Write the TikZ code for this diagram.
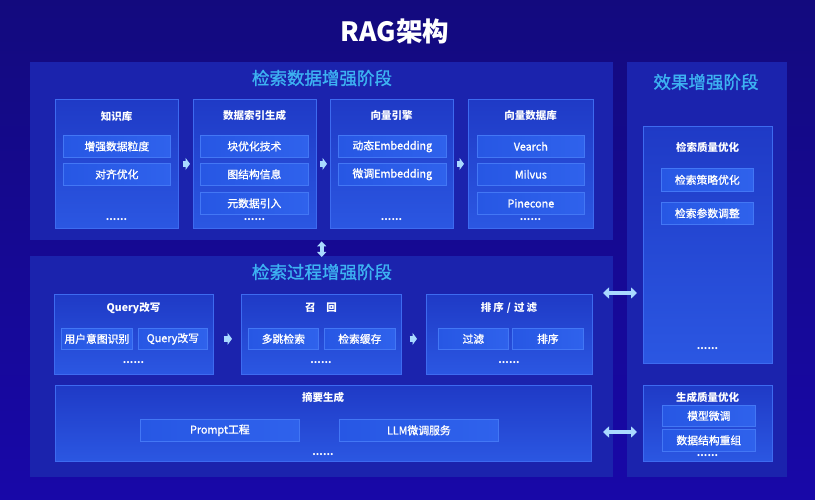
\documentclass[tikz,border=0pt]{standalone}
\usepackage{fontspec}
\setmainfont{Noto Sans CJK SC}
\newfontfamily\medfont{Noto Sans CJK SC}[FakeBold=1.2]
\usetikzlibrary{arrows.meta}
\definecolor{bgtop}{HTML}{130A7E}
\definecolor{bgbot}{HTML}{1808A8}
\definecolor{panelc}{HTML}{1B23AD}
\definecolor{ptitlec}{HTML}{3DB2F2}
\definecolor{inA}{HTML}{1F3AC6}
\definecolor{inB}{HTML}{2B57E2}
\definecolor{inbord}{HTML}{3D6BF0}
\definecolor{itemA}{HTML}{2757E4}
\definecolor{itemB}{HTML}{2F62EC}
\definecolor{itbord}{HTML}{4377F5}
\definecolor{arrowc}{HTML}{A9D9FF}
\tikzset{
  panel/.style={fill=panelc, draw=none, anchor=north west, inner sep=0pt},
  ptitle/.style={text=ptitlec, font=\medfont\fontsize{17.5}{19}\selectfont, inner sep=0pt},
  inbox/.style={draw=inbord, line width=0.8pt, top color=inA, bottom color=inB, anchor=north west, inner sep=0pt},
  btitle/.style={text=white, font=\fontsize{10.5}{12}\selectfont\bfseries, inner sep=0pt},
  item/.style={draw=itbord, line width=0.7pt, left color=itemA, right color=itemB, anchor=north west, inner sep=0pt, text=white, font=\medfont\fontsize{10.8}{12}\selectfont},
  dots/.style={text=white, font=\fontsize{10}{10}\selectfont\bfseries, inner sep=0pt},
  barrow/.style={draw=arrowc, line width=5.5pt, -{Triangle[length=4.5pt,width=12pt]}},
  dbl/.style={draw=arrowc, line width=4.5pt, {Triangle[length=6pt,width=11pt]}-{Triangle[length=6pt,width=11pt]}},
  vdbl/.style={draw=arrowc, line width=4pt, {Triangle[length=5pt,width=9pt]}-{Triangle[length=5pt,width=9pt]}}
}
\begin{document}
\begin{tikzpicture}[x=1pt,y=-1pt]
\useasboundingbox (0,0) rectangle (815,500);
\fill[top color=bgtop, bottom color=bgbot] (0,0) rectangle (815,500);

\node[text=white, font=\fontsize{26.5}{28}\selectfont\bfseries, inner sep=0pt] (title) at (395,31) {RAG架构};

% panels
\node[panel, minimum width=583pt, minimum height=178pt] (p1) at (30,62) {};
\node[panel, minimum width=583pt, minimum height=221pt] (p2) at (30,256) {};
\node[panel, minimum width=160pt, minimum height=415pt] (p3) at (627,62) {};
\node[ptitle] (p1t) at (322,78) {检索数据增强阶段};
\node[ptitle] (p2t) at (322,272) {检索过程增强阶段};
\node[ptitle] (p3t) at (706,82) {效果增强阶段};

% top row
\node[inbox, minimum width=123pt, minimum height=129pt] (kb) at (55,99) {};
\node[inbox, minimum width=123pt, minimum height=129pt] (idx) at (193,99) {};
\node[inbox, minimum width=123pt, minimum height=129pt] (eng) at (330,99) {};
\node[inbox, minimum width=125pt, minimum height=129pt] (vdb) at (468,99) {};
\node[btitle] (kbt) at (116.5,116) {知识库};
\node[btitle] (idxt) at (254.5,116) {数据索引生成};
\node[btitle] (engt) at (391.5,116) {向量引擎};
\node[btitle] (vdbt) at (530.5,116) {向量数据库};

\node[item, minimum width=107pt, minimum height=22pt] (kb1) at (63,135) {增强数据粒度};
\node[item, minimum width=107pt, minimum height=22pt] (kb2) at (63,163) {对齐优化};
\node[item, minimum width=108pt, minimum height=22pt] (idx1) at (200,135) {块优化技术};
\node[item, minimum width=108pt, minimum height=22pt] (idx2) at (200,163) {图结构信息};
\node[item, minimum width=108pt, minimum height=22pt] (idx3) at (200,192) {元数据引入};
\node[item, minimum width=108pt, minimum height=22pt] (eng1) at (338,135) {动态Embedding};
\node[item, minimum width=108pt, minimum height=22pt] (eng2) at (338,163) {微调Embedding};
\node[item, minimum width=107pt, minimum height=22pt] (vdb1) at (477,135) {Vearch};
\node[item, minimum width=107pt, minimum height=22pt] (vdb2) at (477,163) {Milvus};
\node[item, minimum width=107pt, minimum height=22pt] (vdb3) at (477,192) {Pinecone};
\node[dots] (kbd) at (116.5,220) {......};
\node[dots] (idxd) at (254.5,220) {......};
\node[dots] (engd) at (391.5,220) {......};
\node[dots] (vdbd) at (530.5,220) {......};

\draw[barrow, shorten <=4pt, shorten >=3pt] (kb) -- (idx);
\draw[barrow, shorten <=3pt, shorten >=3pt] (idx) -- (eng);
\draw[barrow, shorten <=3pt, shorten >=4pt] (eng) -- (vdb);

% middle row
\node[inbox, minimum width=159pt, minimum height=80pt] (qr) at (54,294) {};
\node[inbox, minimum width=160pt, minimum height=80pt] (rc) at (241,294) {};
\node[inbox, minimum width=166pt, minimum height=80pt] (sf) at (426,294) {};
\node[btitle] (qrt) at (133.5,308) {Query改写};
\node[btitle] (rct) at (321,308) {召\hspace{11pt}回};
\node[btitle] (sft) at (509,308) {排\hspace{2pt}序\hspace{3pt}/\hspace{3pt}过\hspace{2pt}滤};
\node[item, minimum width=71pt, minimum height=21pt] (qr1) at (61,328) {用户意图识别};
\node[item, minimum width=69pt, minimum height=21pt] (qr2) at (138,328) {Query改写};
\node[item, minimum width=70pt, minimum height=21pt] (rc1) at (248,328) {多跳检索};
\node[item, minimum width=71pt, minimum height=21pt] (rc2) at (324,328) {检索缓存};
\node[item, minimum width=70pt, minimum height=21pt] (sf1) at (438,328) {过滤};
\node[item, minimum width=71pt, minimum height=21pt] (sf2) at (512,328) {排序};
\node[dots] (qrd) at (133.5,363) {......};
\node[dots] (rcd) at (321,363) {......};
\node[dots] (sfd) at (509,363) {......};
\draw[barrow, shorten <=16pt, shorten >=16pt] (qr2) -- (rc1);
\draw[barrow, shorten <=14pt, shorten >=21pt] (rc2) -- (sf1);

% summary
\node[inbox, minimum width=536pt, minimum height=76pt] (sum) at (55,385) {};
\node[btitle] (sumt) at (323,397) {摘要生成};
\node[item, minimum width=159pt, minimum height=22pt] (sum1) at (140,419) {Prompt工程};
\node[item, minimum width=159pt, minimum height=22pt] (sum2) at (339,419) {LLM微调服务};
\node[dots] (sumd) at (323,455) {......};

% right column
\node[inbox, minimum width=129pt, minimum height=237pt] (rq) at (643,126) {};
\node[btitle] (rqt) at (707.5,147) {检索质量优化};
\node[item, minimum width=92pt, minimum height=23pt] (rq1) at (661,168) {检索策略优化};
\node[item, minimum width=92pt, minimum height=22pt] (rq2) at (661,202) {检索参数调整};
\node[dots] (rqd) at (707.5,349) {......};
\node[inbox, minimum width=129pt, minimum height=76pt] (gq) at (643,385) {};
\node[btitle] (gqt) at (707.5,397) {生成质量优化};
\node[item, minimum width=93pt, minimum height=21pt] (gq1) at (662,405) {模型微调};
\node[item, minimum width=93pt, minimum height=22pt] (gq2) at (662,429) {数据结构重组};
\node[dots] (gqd) at (707.5,456) {......};

% connectors between stages
\draw[vdbl, shorten <=1pt, shorten >=-1pt] (p1.south) -- (p2.north);
\coordinate (a1) at (603,293);
\coordinate (b1) at (637,293);
\coordinate (a2) at (603,432);
\coordinate (b2) at (637,432);
\draw[dbl] (a1) -- (b1);
\draw[dbl] (a2) -- (b2);
\end{tikzpicture}
\end{document}
